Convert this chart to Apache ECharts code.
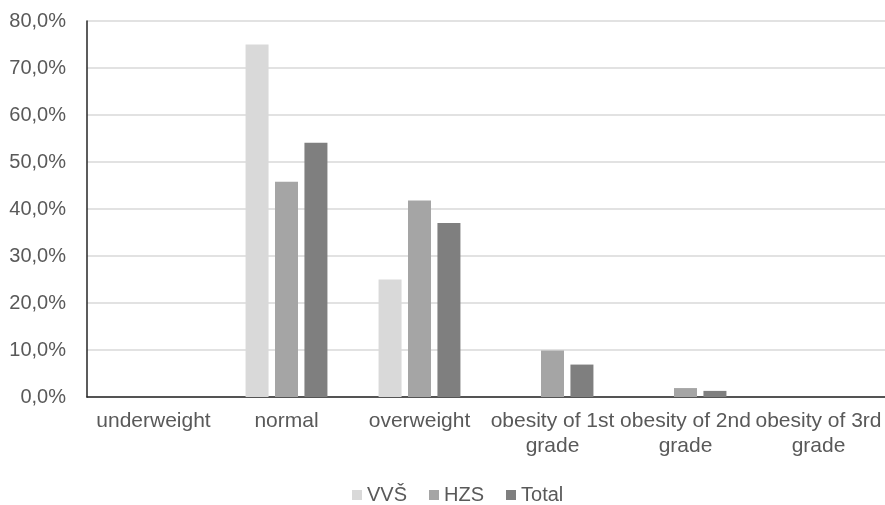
<!DOCTYPE html>
<html>
<head>
<meta charset="utf-8">
<script src="https://cdn.jsdelivr.net/npm/echarts@6/dist/echarts.min.js"></script>
<style>html,body{margin:0;padding:0;background:#fff}#c{width:885px;height:505px}</style>
</head>
<body>
<div id="c"></div>
<script>
var categories = ["underweight", "normal", "overweight", "obesity of 1st grade", "obesity of 2nd grade", "obesity of 3rd grade"];
var seriesNames = ["VVŠ", "HZS", "Total"];
var vvsValues = [0, 75.0, 25.0, 0, 0, 0];
var hzsValues = [0, 45.8, 41.8, 9.9, 1.9, 0];
var totalValues = [0, 54.1, 37.0, 6.9, 1.3, 0];
var yTicks = [0, 10, 20, 30, 40, 50, 60, 70, 80];
var colors = ["#d9d9d9", "#a5a5a5", "#7f7f7f"];

var chart = echarts.init(document.getElementById('c'));
var font = 'Liberation Sans, Arial, sans-serif';
function mk(name, data, color) {
  return {
    name: name, type: 'bar', data: data, barWidth: 23, barGap: '28%',
    itemStyle: { color: color }
  };
}
chart.setOption({
  animation: false,
  textStyle: { fontFamily: font },
  grid: { left: 87, right: 0, top: 21, bottom: 108, containLabel: false },
  legend: {
    data: seriesNames, left: 347, top: 480, itemWidth: 10, itemHeight: 10, itemGap: 22,
    icon: 'rect',
    textStyle: { fontFamily: font, fontSize: 20, color: '#595959' }
  },
  xAxis: {
    type: 'category', data: categories,
    axisLine: { lineStyle: { color: '#262626', width: 1.5 } },
    axisTick: { show: false },
    axisLabel: {
      fontFamily: font, fontSize: 21, color: '#595959', margin: 12, lineHeight: 25, interval: 0,
      formatter: function (v) { return v.replace(' grade', '\ngrade'); }
    }
  },
  yAxis: {
    type: 'value', min: yTicks[0], max: yTicks[yTicks.length - 1], interval: 10,
    axisLine: { show: true, lineStyle: { color: '#262626', width: 1.5 } },
    axisTick: { show: false },
    splitLine: { lineStyle: { color: '#d9d9d9', width: 1.5 } },
    axisLabel: {
      fontFamily: font, fontSize: 20, color: '#595959', margin: 21,
      formatter: function (v) { return v.toFixed(1).replace('.', ',') + '%'; }
    }
  },
  series: [
    mk(seriesNames[0], vvsValues, colors[0]),
    mk(seriesNames[1], hzsValues, colors[1]),
    mk(seriesNames[2], totalValues, colors[2])
  ]
});
</script>
</body>
</html>
